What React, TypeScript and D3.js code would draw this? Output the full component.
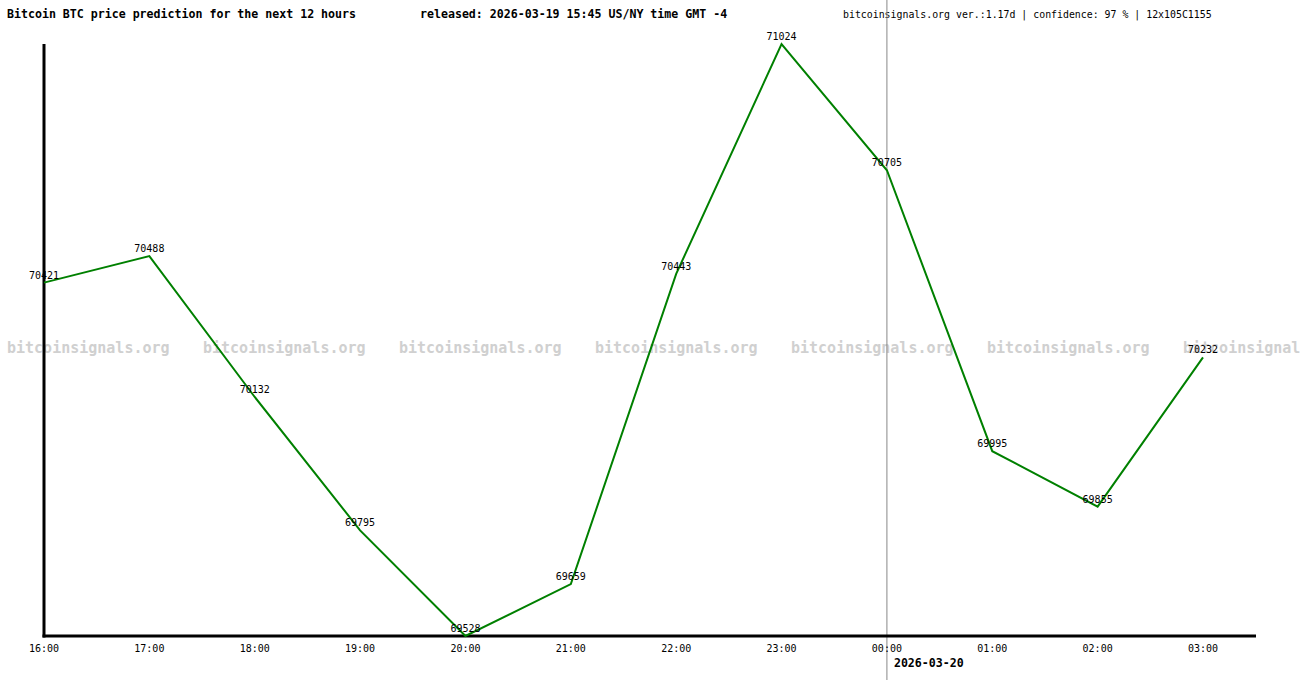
import * as d3 from "d3";
import React from "react";

const hours = ["16:00", "17:00", "18:00", "19:00", "20:00", "21:00", "22:00", "23:00", "00:00", "01:00", "02:00", "03:00"];
const prices = [70421, 70488, 70132, 69795, 69528, 69659, 70443, 71024, 70705, 69995, 69855, 70232];
const titleText = "Bitcoin BTC price prediction for the next 12 hours";
const releasedText = "released: 2026-03-19 15:45 US/NY time GMT -4";
const infoText = "bitcoinsignals.org ver.:1.17d | confidence: 97 % | 12x105C1155";
const watermark = "bitcoinsignals.org";
const dayChangeHour = "00:00";
const dayChangeLabel = "2026-03-20";

const W = 1300, H = 680;
const ml = 44, mr = 97, mt = 44, mb = 44;
const mono = "'DejaVu Sans Mono', 'Liberation Mono', monospace";

const App: React.FC = () => {
  const x = d3.scalePoint(hours, [ml, W - mr]);
  const yExtent = d3.extent(prices) as [number, number];
  const y = d3.scaleLinear(yExtent, [H - mb, mt]);
  const line = d3.line<number>((_, i) => x(hours[i])!, (d) => y(d));
  const dayX = x(dayChangeHour)!;
  const marks = d3.range(7).map((i) => 7 + i * 196);

  return (
    <svg width={W} height={H} style={{ position: "absolute", left: 0, top: 0, background: "#fff" }} fontFamily={mono}>
      {/* watermark row */}
      {marks.map((mx) => (
        <text key={mx} x={mx} y={353} fontSize={15} fontWeight="bold" fill="#d0d0d0">{watermark}</text>
      ))}
      <text x={7} y={18} fontSize={11.6} fontWeight="bold" fill="#000">{titleText}</text>
      <text x={420} y={18} fontSize={11.6} fontWeight="bold" fill="#000">{releasedText}</text>
      <text x={843} y={18} fontSize={9.9} fill="#000">{infoText}</text>

      <line x1={dayX} x2={dayX} y1={0} y2={H} stroke="#888" strokeWidth={1} />

      <line x1={ml} x2={ml} y1={mt} y2={H - mb + 1.5} stroke="#000" strokeWidth={3} />
      <line x1={ml - 1.5} x2={1256} y1={H - mb} y2={H - mb} stroke="#000" strokeWidth={3} />

      <path d={line(prices) || ""} fill="none" stroke="#008000" strokeWidth={2} strokeLinejoin="miter" />

      {prices.map((p, i) => (
        <text key={i} x={x(hours[i])} y={y(p) - 4} fontSize={10} textAnchor="middle" fill="#000">{p}</text>
      ))}
      {hours.map((h) => (
        <text key={h} x={x(h)} y={652} fontSize={10} textAnchor="middle" fill="#000">{h}</text>
      ))}
      <text x={dayX + 7} y={667} fontSize={11.6} fontWeight="bold" fill="#000">{dayChangeLabel}</text>
    </svg>
  );
};

export default App;
